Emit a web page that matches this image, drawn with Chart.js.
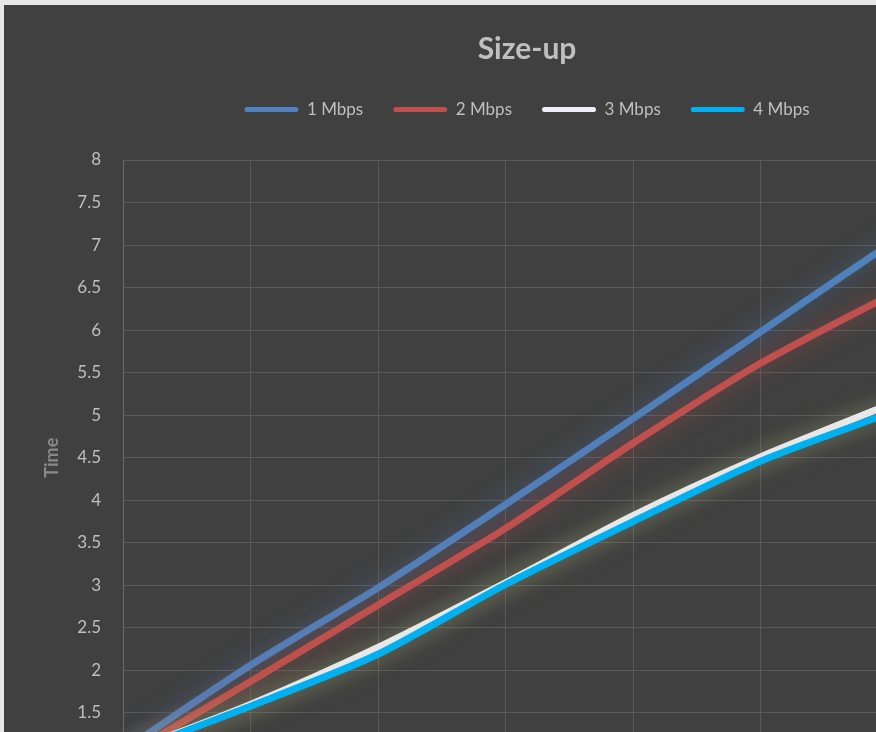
<!DOCTYPE html>
<html>
<head>
<meta charset="utf-8">
<script src="https://cdn.jsdelivr.net/npm/chart.js@4/dist/chart.umd.min.js"></script>
<style>
html, body { margin: 0; padding: 0; width: 876px; height: 732px; overflow: hidden; background: #e7e7e7; }
#wrap { position: absolute; left: 4px; top: 5px; width: 1046px; height: 800px; background: #404040; }
</style>
</head>
<body>
<div id="wrap"><canvas id="chart"></canvas></div>
<script>
// Size-up: time per size step, one line per bandwidth.
const sizes = ["1", "2", "3", "4", "5", "6", "7"];
const mbps1 = [1.06, 2.06, 2.97, 3.95, 4.96, 5.98, 7.00];
const mbps2 = [0.98, 1.87, 2.77, 3.67, 4.67, 5.61, 6.40];
const mbps3 = [1.02, 1.60, 2.27, 3.03, 3.82, 4.51, 5.12];
const mbps4 = [1.01, 1.58, 2.19, 3.01, 3.75, 4.46, 5.02];
const seriesNames = ["1 Mbps", "2 Mbps", "3 Mbps", "4 Mbps"];

const lineColors = ["#4f81bd", "#c0504d", "#f0eef8", "#00b0f0"];
const glowColors = ["rgba(79,129,189,0.6)", "rgba(192,80,77,0.6)", "rgba(170,180,120,0.5)", "rgba(170,180,120,0.5)"];
const FONT = "Lato, 'Open Sans', sans-serif";

// soft glow round each line, like the Excel effect
const glow = {
    id: "glow",
    beforeDatasetDraw(chart, args) {
        const ds = chart.data.datasets[args.index];
        chart.ctx.save();
        chart.ctx.shadowColor = ds.glow;
        chart.ctx.shadowBlur = 22;
    },
    afterDatasetDraw(chart) {
        chart.ctx.restore();
    },
};

// extra room between the legend and the plot
const legendGap = {
    id: "legendGap",
    beforeInit(chart) {
        const fit = chart.legend.fit;
        chart.legend.fit = function () {
            fit.bind(chart.legend)();
            this.height += 32;
        };
    },
};

const values = [mbps1, mbps2, mbps3, mbps4];
const datasets = values.map((v, i) => ({
    label: seriesNames[i],
    data: v,
    borderColor: lineColors[i],
    backgroundColor: lineColors[i],
    glow: glowColors[i],
    borderWidth: 7,
    pointRadius: 0,
    tension: 0.25,
    borderCapStyle: "round",
    order: 4 - i,
}));

new Chart(document.getElementById("chart"), {
    type: "line",
    data: { labels: sizes, datasets },
    plugins: [glow, legendGap],
    options: {
        responsive: true,
        maintainAspectRatio: false,
        animation: false,
        layout: { padding: 0 },
        plugins: {
            title: {
                display: true,
                text: "Size-up",
                color: "#bfbfbf",
                font: { family: FONT, size: 30, weight: "bold", lineHeight: 1 },
                padding: { top: 29, bottom: 7 },
            },
            legend: {
                labels: {
                    color: "#bfbfbf",
                    font: { family: FONT, size: 17 },
                    boxWidth: 54,
                    boxHeight: 5,
                    padding: 30,
                    useBorderRadius: true,
                    borderRadius: 2.5,
                    sort: (a, b) => a.datasetIndex - b.datasetIndex,
                    generateLabels(chart) {
                        return Chart.defaults.plugins.legend.labels.generateLabels(chart).map(l => {
                            l.lineWidth = 0;
                            l.fillStyle = lineColors[l.datasetIndex];
                            return l;
                        });
                    },
                },
            },
            tooltip: { enabled: false },
        },
        scales: {
            x: {
                grid: { color: "#595959", drawTicks: false },
                border: { color: "#6b6b6b" },
                ticks: { color: "#bfbfbf", font: { family: FONT, size: 17 }, padding: 10 },
                afterFit(scale) { scale.height = 49.5; },
            },
            y: {
                min: 1,
                max: 8,
                ticks: {
                    stepSize: 0.5,
                    color: "#bfbfbf",
                    font: { family: FONT, size: 17 },
                    padding: 22,
                    callback: v => String(v),
                },
                grid: { color: "#595959", drawTicks: false },
                border: { color: "#6b6b6b" },
                title: {
                    display: true,
                    text: "Time",
                    color: "#8a8a8a",
                    font: { family: FONT, size: 18, weight: "bold" },
                    padding: { top: 37, bottom: 0 },
                },
                afterFit(scale) { scale.width = 119; },
            },
            // blank right-hand axis: keeps room to the right of the plot
            yr: {
                position: "right",
                display: true,
                ticks: { display: false },
                grid: { display: false },
                border: { display: false },
                afterFit(scale) { scale.width = 162; },
            },
        },
    },
});
</script>
</body>
</html>
